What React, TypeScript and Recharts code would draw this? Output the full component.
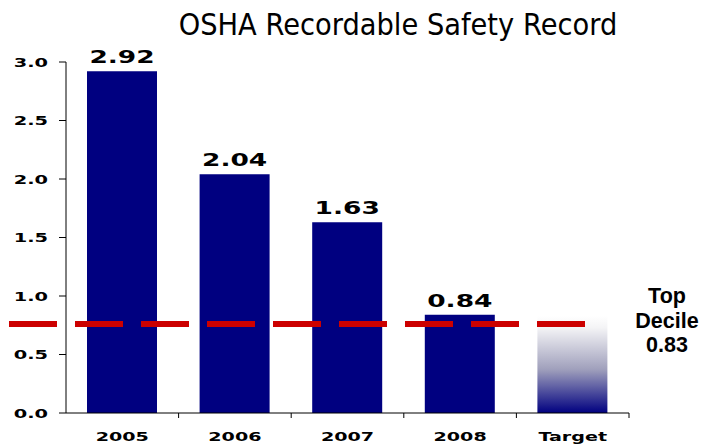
import React from 'react';
import {
  BarChart,
  Bar,
  Cell,
  XAxis,
  YAxis,
  ReferenceLine,
  LabelList,
} from 'recharts';

const years = ['2005', '2006', '2007', '2008', 'Target'];
const rates = [2.92, 2.04, 1.63, 0.84, 0.83];
const valueLabels = ['2.92', '2.04', '1.63', '0.84', ''];
const yTicks = [0, 0.5, 1, 1.5, 2, 2.5, 3];
const decileLine = 0.76;
const decileText = ['Top', 'Decile', '0.83'];

const data = years.map((year, i) => ({ year, value: rates[i], label: valueLabels[i] }));

const NAVY = '#000080';
const RED = '#cc0000';
const WIDE = 1.47; // labels in the original are stretched sideways

const YTick = (props: any) => {
  const { x, y, payload } = props;
  return (
    <text
      transform={`translate(${x},${y}) scale(1.55,1)`}
      textAnchor="end"
      dy="0.36em"
      fontFamily="DejaVu Sans"
      fontWeight="bold"
      fontSize={12.5}
      fill="#000"
    >
      {Number(payload.value).toFixed(1)}
    </text>
  );
};

const XTick = (props: any) => {
  const { x, y, payload, width, visibleTicksCount } = props;
  const half = payload.offset ?? (width && visibleTicksCount ? width / visibleTicksCount / 2 : 56);
  return (
    <g>
      <line x1={x + half} x2={x + half} y1={y - 6} y2={y - 1} stroke="#000" />
      <text
        transform={`translate(${x},${y + 22}) scale(${WIDE},1)`}
        textAnchor="middle"
        fontFamily="DejaVu Sans"
        fontWeight="bold"
        fontSize={13}
        fill="#000"
      >
        {payload.value}
      </text>
    </g>
  );
};

const ValueLabel = (props: any) => {
  const { x, y, width, value } = props;
  if (!value) return null;
  return (
    <text
      transform={`translate(${x + width / 2},${y - 8}) scale(${WIDE},1)`}
      textAnchor="middle"
      fontFamily="DejaVu Sans"
      fontWeight="bold"
      fontSize={18}
      fill="#000"
    >
      {value}
    </text>
  );
};

const DecileLine = (props: any) => {
  const { x1, x2, y1 } = props;
  return (
    <g>
      <line
        x1={x1 - 57}
        x2={x2 - 42}
        y1={y1}
        y2={y1}
        stroke={RED}
        strokeWidth={6}
        strokeDasharray="48 18"
      />
      {decileText.map((t, i) => (
        <text
          key={t}
          x={x2 + 38}
          y={y1 - 21 + i * 24.5}
          textAnchor="middle"
          fontFamily="Liberation Sans"
          fontWeight="bold"
          fontSize={21.5}
          fill="#000"
        >
          {t}
        </text>
      ))}
    </g>
  );
};

export default function App() {
  return (
    <div style={{ position: 'absolute', left: 0, top: 0, width: 706, height: 446, background: '#fff' }}>
      <div
        style={{
          position: 'absolute',
          left: 0,
          top: 7,
          width: 796,
          textAlign: 'center',
          fontFamily: 'DejaVu Sans',
          fontSize: 30,
          color: '#000',
          whiteSpace: 'nowrap',
          transform: 'scaleX(0.91)',
          transformOrigin: '398px 0',
        }}
      >
        OSHA Recordable Safety Record
      </div>
      <BarChart
        width={706}
        height={446}
        data={data}
        margin={{ top: 62, right: 77, bottom: 0, left: 16 }}
      >
        <defs>
          <linearGradient id="targetFill" x1="0" y1="0" x2="0" y2="1">
            <stop offset="0%" stopColor="#ffffff" />
            <stop offset="12%" stopColor="#f4f4f6" />
            <stop offset="55%" stopColor="#a0a0bc" />
            <stop offset="100%" stopColor={NAVY} />
          </linearGradient>
        </defs>
        <XAxis
          dataKey="year"
          interval={0}
          height={33}
          tickSize={6}
          tickMargin={0}
          tickLine={false}
          axisLine={{ stroke: '#000' }}
          tick={<XTick />}
        />
        <YAxis
          domain={[0, 3]}
          ticks={yTicks}
          width={50}
          tickSize={7}
          tickMargin={11}
          tickLine={{ stroke: '#000' }}
          axisLine={{ stroke: '#000' }}
          tick={<YTick />}
        />
        <Bar dataKey="value" barSize={70} isAnimationActive={false}>
          {data.map((d, i) => (
            <Cell key={d.year} fill={i === data.length - 1 ? 'url(#targetFill)' : NAVY} />
          ))}
          <LabelList dataKey="label" content={<ValueLabel />} />
        </Bar>
        <ReferenceLine y={decileLine} shape={<DecileLine />} />
      </BarChart>
    </div>
  );
}
